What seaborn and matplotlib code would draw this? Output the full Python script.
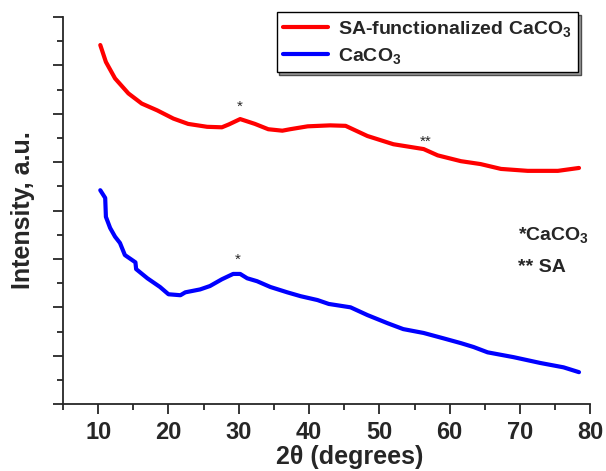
import numpy as np
import pandas as pd
import matplotlib
matplotlib.use("Agg")
import matplotlib.pyplot as plt
import seaborn as sns

# XRD patterns (intensity in arbitrary units)
red_x = [10.3, 11.1, 12.4, 14.3, 16.2, 18.4, 20.7, 22.8, 25.5, 27.6, 28.6, 30.2,
         32.3, 34.2, 36.2, 37.3, 39.8, 43.0, 45.2, 48.3, 52.0, 56.3, 58.3,
         61.6, 64.4, 67.3, 71.1, 75.4, 78.4]
red_y = [7.42, 7.07, 6.73, 6.42, 6.21, 6.07, 5.90, 5.79, 5.73, 5.72, 5.78, 5.89,
         5.79, 5.68, 5.65, 5.68, 5.74, 5.76, 5.75, 5.54, 5.37, 5.27, 5.14,
         5.02, 4.96, 4.86, 4.82, 4.82, 4.88]

blue_x = [10.3, 11.0, 11.1, 11.7, 12.4, 13.1, 13.8, 15.3, 15.4, 17.0, 18.8, 20.0,
          21.7, 22.4, 24.5, 25.9, 27.6, 29.2, 30.2, 31.2, 32.6, 34.5, 36.9,
          38.8, 41.2, 42.8, 45.9, 48.3, 51.2, 53.4, 56.3, 59.1, 61.6, 63.4,
          65.4, 69.1, 72.9, 76.2, 78.4]
blue_y = [4.42, 4.26, 3.87, 3.64, 3.46, 3.33, 3.08, 2.93, 2.79, 2.60, 2.42, 2.27,
          2.25, 2.31, 2.37, 2.44, 2.58, 2.69, 2.69, 2.60, 2.54, 2.42, 2.31,
          2.23, 2.15, 2.07, 2.00, 1.84, 1.67, 1.55, 1.47, 1.36, 1.26, 1.18,
          1.07, 0.97, 0.85, 0.76, 0.66]

labels = ["SA-functionalized CaCO$_3$", "CaCO$_3$"]
colors = ["#ff0000", "#0000ff"]

sns.set_style("ticks")
plt.rcParams["font.family"] = ["Liberation Sans", "DejaVu Sans"]
plt.rcParams["font.weight"] = "bold"
plt.rcParams["mathtext.fontset"] = "custom"
plt.rcParams["mathtext.rm"] = "Liberation Sans:bold"
plt.rcParams["mathtext.bf"] = "Liberation Sans:bold"
plt.rcParams["mathtext.default"] = "bf"

df = pd.concat([
    pd.DataFrame({"x": red_x, "y": red_y, "sample": labels[0]}),
    pd.DataFrame({"x": blue_x, "y": blue_y, "sample": labels[1]}),
])

fig = plt.figure(figsize=(6.06, 4.71), dpi=100)
ax = fig.add_axes([0.104, 0.142, 0.870, 0.822])

sns.lineplot(data=df, x="x", y="y", hue="sample", palette=colors,
             sort=False, estimator=None, linewidth=3, ax=ax)

ax.set_xlim(5, 80)
ax.set_ylim(0, 8)
ax.set_xticks(np.arange(10, 81, 10))
ax.set_xticks(np.arange(5, 81, 5), minor=True)
ax.set_yticks(np.arange(0, 8.1, 1))
ax.set_yticks(np.arange(0, 8.1, 0.5), minor=True)
ax.set_yticklabels([])
ax.tick_params(axis="both", which="major", length=7, width=1.3, labelsize=17, pad=5)
ax.tick_params(axis="both", which="minor", length=4, width=1.3)
for lbl in ax.get_xticklabels():
    lbl.set_fontweight("bold")
for s in ["top", "right"]:
    ax.spines[s].set_visible(False)
for s in ["left", "bottom"]:
    ax.spines[s].set_linewidth(1.3)

ax.set_xlabel("2θ (degrees)", fontsize=18, fontweight="bold")
ax.xaxis.set_label_coords(0.543, -0.105)
ax.set_ylabel("Intensity, a.u.", fontsize=18, fontweight="bold", labelpad=8)

# peak markers
ax.text(30.2, 6.14, "*", fontsize=11, fontweight="normal", ha="center", va="center")
ax.text(29.8, 2.98, "*", fontsize=11, fontweight="normal", ha="center", va="center")
ax.text(56.6, 5.43, "**", fontsize=11, fontweight="normal", ha="center", va="center")
ax.text(69.7, 3.49, "*CaCO$_3$", fontsize=14, ha="left", va="center")
ax.text(69.7, 2.83, "** SA", fontsize=14, ha="left", va="center")

leg = ax.legend(loc="upper right", bbox_to_anchor=(0.977, 1.013), borderaxespad=0,
                fontsize=14, handlelength=2.3, frameon=True, fancybox=False,
                edgecolor="black", framealpha=1, borderpad=0.35, labelspacing=0.35,
                handletextpad=0.5, shadow={"facecolor": "0.6", "alpha": 1})
leg.get_frame().set_linewidth(1.0)
for t in leg.get_texts():
    t.set_fontweight("bold")
for line in leg.get_lines():
    line.set_linewidth(3)

fig.savefig("out.png", dpi=100)
